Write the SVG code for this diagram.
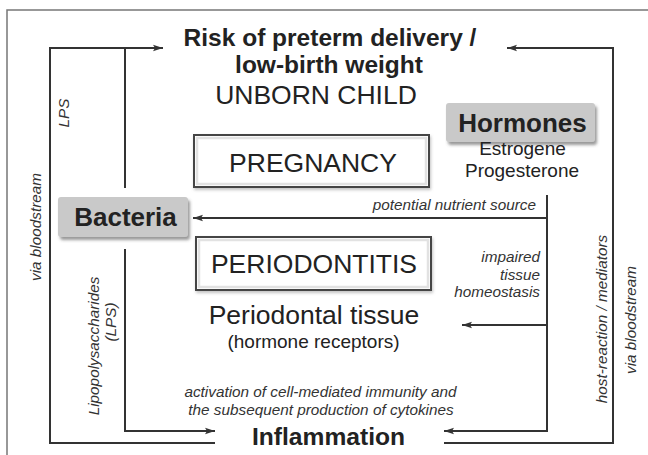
<svg xmlns="http://www.w3.org/2000/svg" width="648" height="455" viewBox="0 0 648 455">
<style>
.t{font-family:"Liberation Sans",Arial,sans-serif;fill:#222}
.b{font-weight:bold}
.i{font-style:italic;font-size:15.3px;fill:#333}
.ln{fill:none;stroke:#333;stroke-width:2}
.fr{fill:none;stroke:#777;stroke-width:1.5}
</style>
<defs>
<marker id="ah" markerUnits="userSpaceOnUse" markerWidth="11" markerHeight="8" refX="10" refY="4" orient="auto">
<path d="M0,0.8 L10,4 L0,7.2 L2,4 z" fill="#333"/>
</marker>
<filter id="sh" x="-10%" y="-20%" width="125%" height="150%">
<feDropShadow dx="2" dy="3" stdDeviation="1.8" flood-color="#555" flood-opacity="0.6"/>
</filter>
<filter id="sh2" x="-10%" y="-20%" width="125%" height="150%">
<feDropShadow dx="1" dy="2" stdDeviation="1.5" flood-color="#888" flood-opacity="0.5"/>
</filter>
</defs>
<rect width="648" height="455" fill="#fff"/>
<path class="fr" d="M7,455 V10 H648"/>

<g id="connectors">
<path class="ln" d="M215,443 H50 V48 H163" marker-end="url(#ah)"/>
<path class="ln" d="M125,188 V48"/>
<path class="ln" d="M125,249 V431 H215" marker-end="url(#ah)"/>
<path class="ln" d="M444,443 H613 V48 H507" marker-end="url(#ah)"/>
<path class="ln" d="M547,195 V431 H444" marker-end="url(#ah)"/>
<path class="ln" d="M547,218 H193" marker-end="url(#ah)"/>
<path class="ln" d="M547,325 H462" marker-end="url(#ah)"/>
<text class="t i" transform="translate(41,227) rotate(-90)" text-anchor="middle">via bloodstream</text>
<text class="t i" transform="translate(69,113) rotate(-90)" text-anchor="middle">LPS</text>
<text class="t i" transform="translate(99,346) rotate(-90)" text-anchor="middle">Lipopolysaccharides</text>
<text class="t i" transform="translate(116,322) rotate(-90)" text-anchor="middle">(LPS)</text>
<text class="t i" transform="translate(607,319) rotate(-90)" text-anchor="middle">host-reaction / mediators</text>
<text class="t i" transform="translate(636,320) rotate(-90)" text-anchor="middle">via bloodstream</text>
<text class="t i" x="536" y="210" text-anchor="end">potential nutrient source</text>
<text class="t i" text-anchor="end"><tspan x="540" y="262">impaired</tspan><tspan x="540" y="279.5">tissue</tspan><tspan x="540" y="297">homeostasis</tspan></text>
<text class="t i" text-anchor="middle"><tspan x="320.5" y="397">activation of cell-mediated immunity and</tspan><tspan x="321" y="415">the subsequent production of cytokines</tspan></text>
</g>

<g id="risk">
<text class="t b" font-size="24.5" text-anchor="middle"><tspan x="330" y="46">Risk of preterm delivery /</tspan><tspan x="329" y="73">low-birth weight</tspan></text>
<text class="t" font-size="26.5" x="316" y="104" text-anchor="middle">UNBORN CHILD</text>
</g>

<g id="pregnancy">
<rect x="194" y="135" width="235" height="52" fill="#fff" stroke="#444" stroke-width="2" filter="url(#sh2)"/>
<rect x="197" y="138" width="229" height="46" fill="none" stroke="#e2e2e2" stroke-width="2.5"/>
<text class="t" font-size="26.5" x="313" y="172" text-anchor="middle">PREGNANCY</text>
</g>

<g id="periodontitis">
<rect x="196" y="237" width="235" height="53" fill="#fff" stroke="#444" stroke-width="2" filter="url(#sh2)"/>
<rect x="199" y="240" width="229" height="47" fill="none" stroke="#e2e2e2" stroke-width="2.5"/>
<text class="t" font-size="26.5" x="314" y="273" text-anchor="middle">PERIODONTITIS</text>
<text class="t" font-size="26.5" x="314" y="324" text-anchor="middle">Periodontal tissue</text>
<text class="t" font-size="19" x="313.5" y="348" text-anchor="middle">(hormone receptors)</text>
</g>

<g id="hormones">
<rect x="446" y="103" width="149" height="39" rx="3" fill="#c9c9c9" filter="url(#sh)"/>
<text class="t b" font-size="26" x="522.5" y="132" text-anchor="middle">Hormones</text>
<text class="t" font-size="19" text-anchor="middle"><tspan x="522.5" y="155">Estrogene</tspan><tspan x="522" y="177">Progesterone</tspan></text>
</g>

<g id="bacteria">
<rect x="58" y="197" width="130" height="40" rx="3" fill="#c9c9c9" filter="url(#sh)"/>
<text class="t b" font-size="26" x="125.5" y="226" text-anchor="middle">Bacteria</text>
</g>

<g id="inflammation">
<text class="t b" font-size="24.6" x="328.5" y="445" text-anchor="middle">Inflammation</text>
</g>
</svg>
